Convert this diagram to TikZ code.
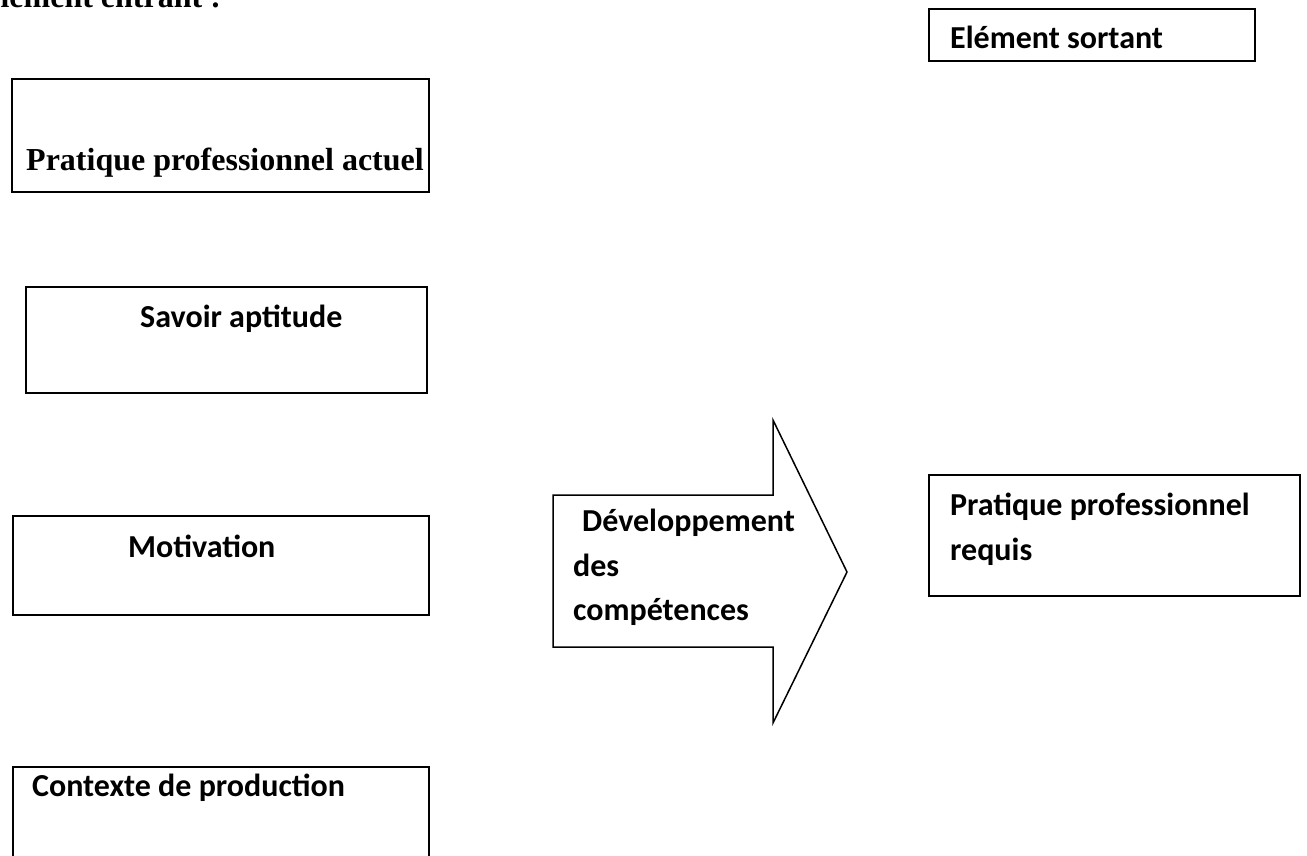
\documentclass[tikz,border=0pt]{standalone}
\usepackage{fontspec}
\setmainfont{Liberation Serif}
\newfontfamily\carl{Carlito}
\begin{document}
\begin{tikzpicture}[x=1pt,y=-1pt,
  box/.style={draw, line width=1.5pt, inner sep=0pt, anchor=north west},
  serif/.style={font=\fontsize{32}{38}\selectfont\bfseries, inner sep=0pt, anchor=base west},
  sans/.style={font=\fontsize{32}{45}\selectfont\carl\bfseries, inner sep=0pt, anchor=base west}]
\useasboundingbox (0,0) rectangle (1307,855);
\clip (0,0) rectangle (1307,855);
% title
\node[serif] (title) at (-21,7) {Elément entrant :};
% left boxes
\node[box, minimum width=417pt, minimum height=113pt] (a) at (11,78) {};
\node[serif] (ta) at (26,170) {Pratique professionnel actuel};
\node[box, minimum width=401pt, minimum height=106pt] (b) at (25,286) {};
\node[sans] (tb) at (140,327) {Savoir aptitude};
\node[box, minimum width=416pt, minimum height=99pt] (c) at (12,515) {};
\node[sans] (tc) at (128,557) {Motivation};
\node[box, minimum width=416pt, minimum height=120pt] (d) at (12,766) {};
\node[sans] (td) at (32,796) {Contexte de production};
% right boxes
\node[box, minimum width=326pt, minimum height=52pt] (e) at (928,8) {};
\node[sans] (te) at (950,48) {Elément sortant};
\node[box, minimum width=371pt, minimum height=121pt] (f) at (928,474) {};
\node[sans] (tf1) at (950,515) {Pratique professionnel};
\node[sans] (tf2) at (950,560) {requis};
% arrow
\draw[line width=1.5pt, line join=miter] (553,495) -- (773,495) -- (773,420) -- (847,572) -- (773,723) -- (773,647) -- (553,647) -- cycle;
\node[sans] (g1) at (582,531) {Développement};
\node[sans] (g2) at (573,576) {des};
\node[sans] (g3) at (573,620) {compétences};
\end{tikzpicture}
\end{document}
